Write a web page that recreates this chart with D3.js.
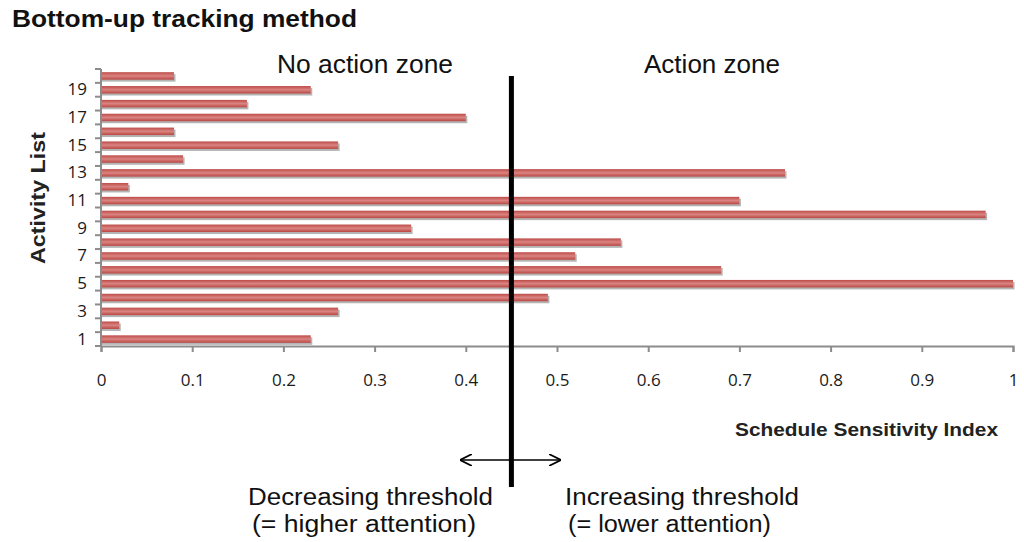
<!DOCTYPE html>
<html lang="en">
<head>
   <meta charset="UTF-8">
   <title>Bottom-up tracking method</title>
   <style>
      body { margin: 0; background: white; }
      text { font-family: "Liberation Sans", Arial, sans-serif; }
      .axis path, .axis line { stroke: #8c8c8c; stroke-width: 2; }
      .axis text { font-family: "Open Sans", "Noto Sans", sans-serif; font-size: 17px; fill: #1a1a1a; }
      .narrow { font-size: 23px; fill: #111; }
   </style>
   <script src="https://cdn.jsdelivr.net/npm/d3@7"></script>
</head>
<body>
<svg width="1024" height="542"></svg>
<script>
   // data
   const activities = d3.range(1, 21)
   const sensitivity = [0.23, 0.02, 0.26, 0.49, 1.0, 0.68, 0.52, 0.57, 0.34, 0.97,
                        0.70, 0.03, 0.75, 0.09, 0.26, 0.08, 0.40, 0.16, 0.23, 0.08]
   const xTicks = [0, 0.1, 0.2, 0.3, 0.4, 0.5, 0.6, 0.7, 0.8, 0.9, 1]
   const threshold = 0.45

   const svg = d3.select('svg')

   const x = d3.scaleLinear().domain([0, 1]).range([101, 1013])
   const y = d3.scaleBand()
      .domain(activities.slice().reverse())
      .range([69, 346])
      .paddingInner(0.46)
      .paddingOuter(0.23)

   const defs = svg.append('defs')
   const grad = defs.append('linearGradient')
      .attr('id', 'barFill')
      .attr('x1', 0).attr('x2', 0).attr('y1', 0).attr('y2', 1)
   grad.append('stop').attr('offset', '0%').attr('stop-color', '#bd4b48')
   grad.append('stop').attr('offset', '50%').attr('stop-color', '#da8481')
   grad.append('stop').attr('offset', '100%').attr('stop-color', '#b94643')

   // bars (shadow first)
   const bars = svg.append('g')
   bars.selectAll('rect.shadow')
      .data(activities)
      .enter()
      .append('rect')
         .attr('class', 'shadow')
         .attr('x', x(0))
         .attr('y', d => y(d) + 2)
         .attr('width', (d, i) => x(sensitivity[i]) - x(0) + 1.5)
         .attr('height', y.bandwidth())
         .attr('fill', '#b4b4b4')
   bars.selectAll('rect.bar')
      .data(activities)
      .enter()
      .append('rect')
         .attr('class', 'bar')
         .attr('x', x(0))
         .attr('y', d => y(d))
         .attr('width', (d, i) => x(sensitivity[i]) - x(0))
         .attr('height', y.bandwidth())
         .attr('fill', 'url(#barFill)')

   // x axis
   svg.append('g')
      .attr('class', 'axis')
      .attr('transform', `translate(0, ${y.range()[1]})`)
      .call(d3.axisBottom(x).tickValues(xTicks).tickSize(6).tickPadding(22)
         .tickFormat(d => d === 0 || d === 1 ? d : d3.format('.1f')(d)))

   // y axis: labels for odd activities, ticks at band boundaries
   const yAxis = svg.append('g')
      .attr('class', 'axis')
      .attr('transform', `translate(${x(0)}, 0)`)
   yAxis.call(d3.axisLeft(y).tickSize(0).tickPadding(14)
      .tickFormat(d => d % 2 === 1 ? d : ''))
   yAxis.select('.domain').attr('d', `M0,${y.range()[0]}V${y.range()[1]}`)
   yAxis.selectAll('line.bound')
      .data(d3.range(0, 21))
      .enter()
      .append('line')
         .attr('class', 'bound')
         .attr('x1', -6)
         .attr('x2', 0)
         .attr('y1', i => y.range()[0] + i * (y.range()[1] - y.range()[0]) / 20)
         .attr('y2', i => y.range()[0] + i * (y.range()[1] - y.range()[0]) / 20)

   // titles
   svg.append('text')
      .attr('x', 12).attr('y', 27)
      .attr('font-size', 24).attr('font-weight', 'bold').attr('fill', '#111')
      .attr('textLength', 345).attr('lengthAdjust', 'spacingAndGlyphs')
      .text('Bottom-up tracking method')

   svg.append('text')
      .attr('transform', 'translate(45, 198) rotate(-90)')
      .attr('text-anchor', 'middle')
      .attr('font-family', '"Open Sans", sans-serif')
      .attr('font-size', 20).attr('font-weight', 'bold').attr('fill', '#222')
      .attr('textLength', 132).attr('lengthAdjust', 'spacingAndGlyphs')
      .text('Activity List')

   svg.append('text')
      .attr('x', 735).attr('y', 436)
      .attr('font-family', '"Open Sans", sans-serif')
      .attr('font-size', 18).attr('font-weight', 'bold').attr('fill', '#222')
      .attr('textLength', 263).attr('lengthAdjust', 'spacingAndGlyphs')
      .text('Schedule Sensitivity Index')

   svg.append('text')
      .attr('x', 277).attr('y', 73)
      .attr('font-size', 25).attr('fill', '#111')
      .attr('textLength', 176).attr('lengthAdjust', 'spacingAndGlyphs')
      .text('No action zone')
   svg.append('text')
      .attr('x', 644).attr('y', 73)
      .attr('font-size', 25).attr('fill', '#111')
      .attr('textLength', 136).attr('lengthAdjust', 'spacingAndGlyphs')
      .text('Action zone')

   // threshold line and arrow
   const tx = x(threshold)
   svg.append('line')
      .attr('x1', tx).attr('x2', tx)
      .attr('y1', 76).attr('y2', 487)
      .attr('stroke', '#000').attr('stroke-width', 5)

   defs.append('marker')
      .attr('id', 'head')
      .attr('viewBox', '0 0 10 10')
      .attr('refX', 9).attr('refY', 5)
      .attr('markerWidth', 8).attr('markerHeight', 8)
      .attr('orient', 'auto-start-reverse')
      .append('path')
         .attr('d', 'M0,0 L10,5 L0,10')
         .attr('fill', 'none').attr('stroke', '#000').attr('stroke-width', 1.5)

   svg.append('line')
      .attr('x1', x(0.395)).attr('x2', x(0.503))
      .attr('y1', 460).attr('y2', 460)
      .attr('stroke', '#000').attr('stroke-width', 1.5)
      .attr('marker-start', 'url(#head)')
      .attr('marker-end', 'url(#head)')

   const notes = [
      { t: 'Decreasing threshold', x: 248, y: 505, w: 245 },
      { t: '(= higher attention)', x: 252, y: 532, w: 224 },
      { t: 'Increasing threshold', x: 565, y: 505, w: 234 },
      { t: '(= lower attention)', x: 568, y: 532, w: 203 }
   ]
   svg.selectAll('text.narrow')
      .data(notes)
      .enter()
      .append('text')
         .attr('class', 'narrow')
         .attr('x', d => d.x).attr('y', d => d.y)
         .attr('textLength', d => d.w).attr('lengthAdjust', 'spacingAndGlyphs')
         .text(d => d.t)
</script>
</body>
</html>
